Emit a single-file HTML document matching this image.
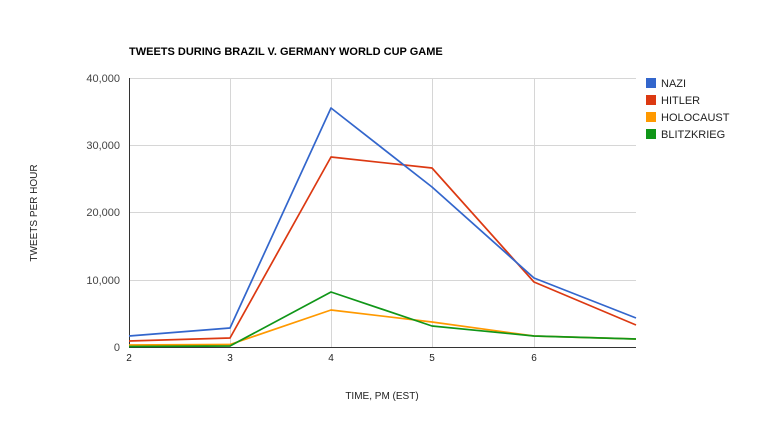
<!DOCTYPE html>
<html><head><style>body{margin:0;background:#fff}</style></head><body>
<svg width="768" height="432" xmlns="http://www.w3.org/2000/svg" font-family="Liberation Sans, Arial, sans-serif">
<rect width="768" height="432" fill="#fff"/>
<text x="129" y="55" font-size="11" font-weight="bold" fill="#000">TWEETS DURING BRAZIL V. GERMANY WORLD CUP GAME</text>
<g stroke="#d6d6d6" stroke-width="1">
<line x1="129" y1="78.5" x2="636" y2="78.5"/>
<line x1="129" y1="145.5" x2="636" y2="145.5"/>
<line x1="129" y1="212.5" x2="636" y2="212.5"/>
<line x1="129" y1="280.5" x2="636" y2="280.5"/>
<line x1="230.5" y1="78" x2="230.5" y2="347"/>
<line x1="331.5" y1="78" x2="331.5" y2="347"/>
<line x1="432.5" y1="78" x2="432.5" y2="347"/>
<line x1="534.5" y1="78" x2="534.5" y2="347"/>
</g>
<line x1="129.5" y1="78" x2="129.5" y2="347" stroke="#333"/>
<line x1="129" y1="347.5" x2="636" y2="347.5" stroke="#333"/>
<g font-size="11" fill="#444" text-anchor="end">
<text x="120" y="82">40,000</text>
<text x="120" y="149">30,000</text>
<text x="120" y="216">20,000</text>
<text x="120" y="284">10,000</text>
<text x="120" y="351">0</text>
</g>
<g font-size="10" fill="#222" text-anchor="middle">
<text x="129" y="361">2</text><text x="230" y="361">3</text><text x="331" y="361">4</text><text x="432" y="361">5</text><text x="534" y="361">6</text>
</g>
<text x="382" y="399" font-size="10" fill="#222" text-anchor="middle">TIME, PM (EST)</text>
<text transform="translate(37,213) rotate(-90)" font-size="10" fill="#222" text-anchor="middle">TWEETS PER HOUR</text>
<g fill="none" stroke-width="1.7" stroke-linejoin="round">
<polyline stroke="#ff9900" points="129,345 230,344.5 331,310 432,322 534,336 636,339"/>
<polyline stroke="#109618" points="129,346.5 230,346 331,292 432,326 534,336 636,339"/>
<polyline stroke="#dc3912" points="129,341 230,338 331,157 432,168 534,282 636,325"/>
<polyline stroke="#3366cc" points="129,336 230,328 331,108 432,187 534,278 636,318"/>
</g>
<g font-size="11" fill="#222">
<rect x="646" y="78" width="10" height="10" fill="#3366cc"/><text x="661" y="87">NAZI</text>
<rect x="646" y="95" width="10" height="10" fill="#dc3912"/><text x="661" y="104">HITLER</text>
<rect x="646" y="112" width="10" height="10" fill="#ff9900"/><text x="661" y="121">HOLOCAUST</text>
<rect x="646" y="129" width="10" height="10" fill="#109618"/><text x="661" y="138">BLITZKRIEG</text>
</g>
</svg>
</body></html>
